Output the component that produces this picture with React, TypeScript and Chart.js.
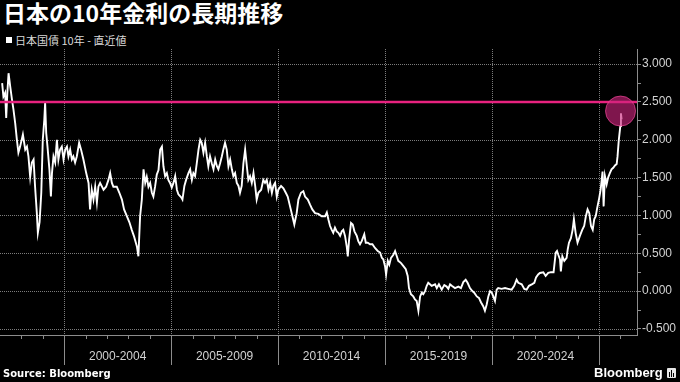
import React, { useEffect, useRef } from 'react';
import { Chart, registerables } from 'chart.js';

Chart.register(...registerables);

// 日本国債10年 利回り (%)
const years = [
  1997.10, 1997.16, 1997.24, 1997.29, 1997.34, 1997.40, 1997.48, 1997.56, 1997.63, 1997.71,
  1997.79, 1997.86, 1997.94, 1998.07, 1998.18, 1998.26, 1998.33, 1998.41, 1998.49, 1998.57,
  1998.64, 1998.72, 1998.77, 1998.85, 1998.93, 1999.00, 1999.07, 1999.11, 1999.16, 1999.22,
  1999.31, 1999.38, 1999.43, 1999.50, 1999.58, 1999.66, 1999.73, 1999.81, 1999.89, 1999.97,
  2000.05, 2000.13, 2000.20, 2000.28, 2000.36, 2000.43, 2000.51, 2000.59, 2000.70, 2000.79,
  2000.90, 2001.03, 2001.14, 2001.21, 2001.29, 2001.37, 2001.45, 2001.53, 2001.60, 2001.68,
  2001.84, 2001.96, 2002.07, 2002.15, 2002.23, 2002.30, 2002.46, 2002.58, 2002.70, 2002.80,
  2002.93, 2003.05, 2003.16, 2003.27, 2003.40, 2003.47, 2003.55, 2003.63, 2003.71, 2003.79,
  2003.86, 2003.94, 2004.02, 2004.10, 2004.17, 2004.25, 2004.33, 2004.41, 2004.49, 2004.57,
  2004.64, 2004.72, 2004.80, 2004.87, 2004.95, 2005.03, 2005.11, 2005.19, 2005.27, 2005.34,
  2005.47, 2005.53, 2005.62, 2005.70, 2005.81, 2005.89, 2005.97, 2006.04, 2006.12, 2006.20,
  2006.28, 2006.36, 2006.43, 2006.51, 2006.59, 2006.67, 2006.74, 2006.82, 2006.90, 2006.98,
  2007.06, 2007.14, 2007.21, 2007.29, 2007.37, 2007.44, 2007.52, 2007.60, 2007.68, 2007.76,
  2007.84, 2007.91, 2007.99, 2008.07, 2008.15, 2008.22, 2008.30, 2008.38, 2008.46, 2008.54,
  2008.61, 2008.69, 2008.77, 2008.85, 2008.93, 2009.00, 2009.08, 2009.21, 2009.31, 2009.39,
  2009.47, 2009.55, 2009.63, 2009.71, 2009.78, 2009.86, 2009.94, 2010.01, 2010.14, 2010.25,
  2010.36, 2010.45, 2010.56, 2010.67, 2010.76, 2010.87, 2010.95, 2011.07, 2011.18, 2011.26,
  2011.39, 2011.50, 2011.60, 2011.73, 2011.88, 2012.04, 2012.20, 2012.28, 2012.35, 2012.43,
  2012.51, 2012.58, 2012.66, 2012.74, 2012.82, 2012.90, 2012.98, 2013.05, 2013.13, 2013.21,
  2013.26, 2013.32, 2013.41, 2013.49, 2013.57, 2013.68, 2013.75, 2013.83, 2013.91, 2014.03,
  2014.10, 2014.19, 2014.30, 2014.41, 2014.53, 2014.66, 2014.77, 2014.85, 2014.92, 2015.00,
  2015.05, 2015.13, 2015.20, 2015.28, 2015.39, 2015.47, 2015.55, 2015.62, 2015.75, 2015.86,
  2015.97, 2016.06, 2016.12, 2016.21, 2016.32, 2016.40, 2016.48, 2016.56, 2016.64, 2016.72,
  2016.79, 2016.87, 2016.95, 2017.02, 2017.10, 2017.18, 2017.34, 2017.42, 2017.52, 2017.65,
  2017.77, 2017.88, 2017.96, 2018.04, 2018.12, 2018.27, 2018.43, 2018.55, 2018.66, 2018.77,
  2018.86, 2018.97, 2019.08, 2019.17, 2019.29, 2019.39, 2019.49, 2019.59, 2019.67, 2019.75,
  2019.83, 2019.91, 2019.99, 2020.06, 2020.14, 2020.22, 2020.29, 2020.45, 2020.61, 2020.76,
  2020.92, 2021.04, 2021.15, 2021.23, 2021.39, 2021.51, 2021.62, 2021.73, 2021.86, 2021.98,
  2022.06, 2022.16, 2022.24, 2022.40, 2022.51, 2022.63, 2022.76, 2022.88, 2022.98, 2023.04,
  2023.10, 2023.18, 2023.22, 2023.29, 2023.38, 2023.49, 2023.54, 2023.60, 2023.69, 2023.77,
  2023.83, 2023.91, 2024.00, 2024.11, 2024.22, 2024.31, 2024.39, 2024.47, 2024.55, 2024.63,
  2024.71, 2024.78, 2024.85, 2024.92, 2025.00, 2025.08, 2025.13, 2025.17, 2025.22, 2025.28,
  2025.36, 2025.43, 2025.51, 2025.59, 2025.67, 2025.75, 2025.83, 2025.87, 2025.93, 2026.00,
  2026.03, 2026.06,
];

const yields = [
  2.75, 2.57, 2.62, 2.29, 2.60, 2.88, 2.70, 2.53, 2.40, 2.22,
  2.00, 1.83, 1.91, 2.07, 1.87, 1.91, 1.78, 1.51, 1.70, 1.74,
  1.38, 1.04, 0.77, 0.91, 1.30, 2.00, 2.26, 2.49, 2.09, 1.91,
  1.61, 1.25, 1.56, 1.78, 1.70, 2.00, 1.74, 1.87, 1.91, 1.74,
  1.87, 1.91, 1.78, 1.87, 1.74, 1.78, 1.70, 1.78, 1.96, 1.87,
  1.74, 1.56, 1.43, 1.08, 1.34, 1.21, 1.38, 1.17, 1.38, 1.43,
  1.34, 1.38, 1.47, 1.56, 1.43, 1.38, 1.38, 1.30, 1.21, 1.08,
  0.99, 0.91, 0.81, 0.72, 0.59, 0.46, 0.99, 1.21, 1.61, 1.43,
  1.51, 1.38, 1.43, 1.30, 1.25, 1.38, 1.54, 1.60, 1.87, 1.91,
  1.65, 1.52, 1.56, 1.47, 1.43, 1.37, 1.43, 1.52, 1.34, 1.28,
  1.24, 1.21, 1.39, 1.47, 1.56, 1.61, 1.47, 1.56, 1.52, 1.69,
  1.87, 2.00, 1.96, 1.83, 1.96, 1.78, 1.65, 1.78, 1.69, 1.61,
  1.74, 1.65, 1.61, 1.69, 1.78, 1.87, 1.96, 1.87, 1.65, 1.74,
  1.61, 1.52, 1.56, 1.43, 1.39, 1.30, 1.39, 1.69, 1.87, 1.65,
  1.47, 1.52, 1.43, 1.56, 1.39, 1.21, 1.30, 1.34, 1.47, 1.43,
  1.47, 1.34, 1.43, 1.30, 1.39, 1.43, 1.25, 1.34, 1.39, 1.36,
  1.30, 1.25, 1.12, 0.99, 0.88, 1.03, 1.21, 1.30, 1.32, 1.25,
  1.21, 1.14, 1.08, 1.03, 1.02, 0.99, 0.99, 1.04, 0.95, 0.86,
  0.81, 0.77, 0.84, 0.79, 0.77, 0.73, 0.79, 0.81, 0.73, 0.59,
  0.46, 0.68, 0.90, 0.88, 0.79, 0.73, 0.66, 0.62, 0.66, 0.75,
  0.64, 0.64, 0.62, 0.62, 0.57, 0.53, 0.51, 0.44, 0.42, 0.33,
  0.22, 0.40, 0.35, 0.44, 0.48, 0.53, 0.46, 0.40, 0.37, 0.33,
  0.29, 0.20, 0.04, -0.04, -0.07, -0.11, -0.13, -0.26, -0.07, -0.02,
  -0.04, 0.00, 0.07, 0.11, 0.09, 0.07, 0.09, 0.04, 0.09, 0.02,
  0.08, 0.06, 0.03, 0.09, 0.07, 0.04, 0.06, 0.04, 0.12, 0.15,
  0.11, 0.04, 0.00, -0.02, -0.07, -0.09, -0.15, -0.20, -0.26, -0.18,
  -0.07, 0.00, -0.02, -0.07, -0.13, 0.02, 0.04, 0.03, 0.04, 0.03,
  0.02, 0.07, 0.15, 0.11, 0.09, 0.03, 0.02, 0.07, 0.09, 0.11,
  0.18, 0.22, 0.24, 0.25, 0.20, 0.24, 0.25, 0.25, 0.51, 0.53,
  0.48, 0.42, 0.26, 0.46, 0.40, 0.44, 0.55, 0.64, 0.70, 0.81,
  0.95, 0.77, 0.64, 0.73, 0.81, 0.86, 0.99, 1.08, 1.03, 0.86,
  0.81, 0.95, 0.99, 1.10, 1.21, 1.34, 1.47, 1.58, 1.12, 1.52,
  1.41, 1.50, 1.56, 1.61, 1.63, 1.66, 1.68, 1.78, 2.00, 2.18,
  2.35, 2.27,
];

const yTickValues = [-0.5, -0.25, 0, 0.25, 0.5, 0.75, 1.0, 1.25, 1.5, 1.75, 2.0, 2.25, 2.5, 2.75, 3.0];
const separatorYears = [2000, 2005, 2010, 2015, 2020, 2025];
const periodStarts = [2000, 2005, 2010, 2015, 2020];
const periodLabels = ['2000-2004', '2005-2009', '2010-2014', '2015-2019', '2020-2024'];
const referenceLevel = 2.5;
const markerYear = 2026.01;
const markerValue = 2.38;

const X_MIN = 1997;
const X_MAX = 2026.78;
const AXIS_GRAY = '#8c8c8c';
const GRID_GRAY = '#7c7c7c';
const LABEL_GRAY = '#d2d2d2';

const isMajor = (v: number) => Math.abs(v * 2 - Math.round(v * 2)) < 1e-6;

export default function App() {
  const canvasRef = useRef<HTMLCanvasElement>(null);

  useEffect(() => {
    const canvas = canvasRef.current;
    if (!canvas) return;

    const dottedGrid = {
      id: 'dottedGrid',
      beforeDatasetsDraw(chart: any) {
        const { ctx, chartArea, scales } = chart;
        const xs = scales.x;
        const ys = scales.y;
        ctx.save();
        ctx.strokeStyle = GRID_GRAY;
        ctx.lineWidth = 1;
        ctx.setLineDash([1, 1]);
        yTickValues.filter((v) => isMajor(v)).forEach((v) => {
          const py = Math.round(ys.getPixelForValue(v)) + 0.5;
          ctx.beginPath();
          ctx.moveTo(chartArea.left, py);
          ctx.lineTo(chartArea.right, py);
          ctx.stroke();
        });
        separatorYears.forEach((yr) => {
          const px = Math.round(xs.getPixelForValue(yr)) + 0.5;
          ctx.beginPath();
          ctx.moveTo(px, chartArea.top);
          ctx.lineTo(px, chartArea.bottom);
          ctx.stroke();
        });
        ctx.restore();
      },
    };

    const periodAxis = {
      id: 'periodAxis',
      afterDraw(chart: any) {
        const { ctx, chartArea, scales } = chart;
        const xs = scales.x;
        const b = chartArea.bottom;
        ctx.save();
        ctx.strokeStyle = AXIS_GRAY;
        ctx.lineWidth = 1;
        for (let yr = Math.ceil(X_MIN + 0.5); yr <= Math.floor(X_MAX); yr++) {
          const px = Math.round(xs.getPixelForValue(yr)) + 0.5;
          const len = separatorYears.includes(yr) ? 30 : 4;
          ctx.beginPath();
          ctx.moveTo(px, b);
          ctx.lineTo(px, b + len);
          ctx.stroke();
        }
        ctx.fillStyle = LABEL_GRAY;
        ctx.font = '12px "Liberation Sans", Arial, sans-serif';
        ctx.textAlign = 'center';
        ctx.textBaseline = 'middle';
        periodStarts.forEach((s, i) => {
          ctx.fillText(periodLabels[i], xs.getPixelForValue(s + 2.5), b + 22);
        });
        ctx.restore();
      },
    };

    const chart = new Chart(canvas, {
      type: 'line',
      data: {
        datasets: [
          {
            label: 'marker',
            data: [{ x: markerYear, y: markerValue }],
            showLine: false,
            pointRadius: 15,
            pointBackgroundColor: 'rgba(205,35,125,0.62)',
            pointBorderColor: 'rgba(235,70,150,0.7)',
            pointBorderWidth: 1,
            clip: false,
          },
          {
            label: 'ref',
            data: [{ x: X_MIN, y: referenceLevel }, { x: X_MAX, y: referenceLevel }],
            borderColor: '#e8227f',
            borderWidth: 2.5,
            pointRadius: 0,
          },
          {
            label: '日本国債 10年 - 直近値',
            data: years.map((x, i) => ({ x, y: yields[i] })),
            borderColor: '#ffffff',
            borderWidth: 1.9,
            pointRadius: 0,
            tension: 0,
          },
        ],
      },
      options: {
        animation: false,
        responsive: false,
        devicePixelRatio: 1,
        layout: { autoPadding: false, padding: { top: 9, left: 0, right: 0, bottom: 0 } },
        plugins: {
          legend: { display: false },
          tooltip: { enabled: false },
          title: { display: false },
        },
        scales: {
          x: {
            type: 'linear',
            min: X_MIN,
            max: X_MAX,
            afterBuildTicks: (ax: any) => {
              ax.ticks = separatorYears.map((v) => ({ value: v }));
            },
            afterFit: (ax: any) => {
              ax.height = 40;
            },
            grid: { display: false },
            border: { display: true, color: AXIS_GRAY, width: 1 },
            ticks: { display: false },
          },
          y: {
            type: 'linear',
            position: 'right',
            min: -0.58,
            max: 3.2,
            afterBuildTicks: (ax: any) => {
              ax.ticks = yTickValues.map((v) => ({ value: v }));
            },
            afterFit: (ax: any) => {
              ax.width = 43;
            },
            grid: {
              drawOnChartArea: false,
              tickColor: AXIS_GRAY,
              tickLength: 4,
              drawTicks: true,
              lineWidth: 1,
            },
            border: { display: true, color: AXIS_GRAY, width: 1 },
            ticks: {
              color: LABEL_GRAY,
              font: { size: 12, family: '"Liberation Sans", Arial, sans-serif' },
              padding: 1,
              autoSkip: false,
              callback: (v: any) => (isMajor(Number(v)) ? Number(v).toFixed(3) : ''),
            },
          },
        },
      },
      plugins: [dottedGrid, periodAxis],
    } as any);

    return () => chart.destroy();
  }, []);

  return (
    <div
      style={{
        position: 'fixed',
        left: 0,
        top: 0,
        width: 680,
        height: 382,
        background: '#000',
        overflow: 'hidden',
        fontFamily: '"Noto Sans CJK JP", "Noto Sans", sans-serif',
      }}
    >
      <div
        style={{
          position: 'absolute',
          left: 3,
          top: 0,
          fontSize: 23,
          lineHeight: '25px',
          fontWeight: 700,
          color: '#fff',
          whiteSpace: 'nowrap',
        }}
      >
        日本の10年金利の長期推移
      </div>
      <div style={{ position: 'absolute', left: 6, top: 37, width: 6, height: 6, background: '#fff' }} />
      <div
        style={{
          position: 'absolute',
          left: 15,
          top: 32,
          fontSize: 11,
          lineHeight: '16px',
          color: '#d8d8d8',
          whiteSpace: 'nowrap',
        }}
      >
        日本国債 10年 - 直近値
      </div>
      <canvas
        ref={canvasRef}
        width={680}
        height={335}
        style={{ position: 'absolute', left: 0, top: 40, width: 680, height: 335, display: 'block' }}
      />
      <div
        style={{
          position: 'absolute',
          left: 3,
          top: 368,
          fontFamily: '"DejaVu Sans", sans-serif',
          fontWeight: 700,
          fontSize: 10,
          lineHeight: '12px',
          color: '#fff',
          whiteSpace: 'nowrap',
        }}
      >
        Source: Bloomberg
      </div>
      <div
        style={{
          position: 'absolute',
          left: 594,
          top: 365,
          fontFamily: '"Liberation Sans", Arial, sans-serif',
          fontWeight: 700,
          fontSize: 13,
          lineHeight: '16px',
          color: '#fff',
          whiteSpace: 'nowrap',
        }}
      >
        Bloomberg
      </div>
      <div
        style={{
          position: 'absolute',
          left: 667,
          top: 368,
          width: 9,
          height: 10,
          background: '#e6e6e6',
          borderRadius: 1,
        }}
      >
        <div style={{ position: 'absolute', left: 2, top: 4, width: 1, height: 5, background: '#000' }} />
        <div style={{ position: 'absolute', left: 4, top: 2, width: 1, height: 7, background: '#000' }} />
        <div style={{ position: 'absolute', left: 6, top: 5, width: 1, height: 4, background: '#000' }} />
      </div>
    </div>
  );
}
